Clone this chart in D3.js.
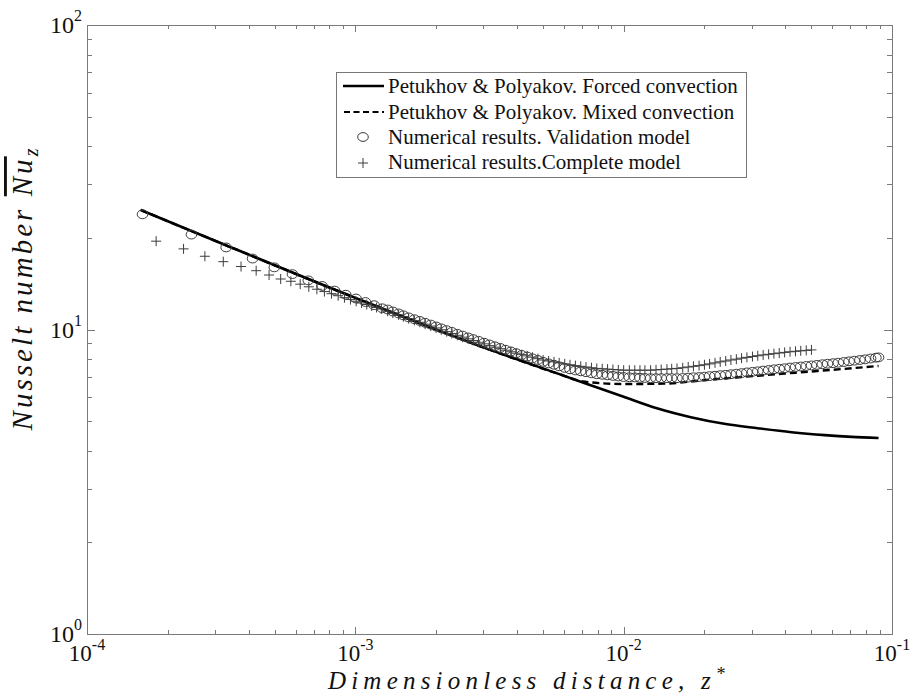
<!DOCTYPE html>
<html><head><meta charset="utf-8">
<script src="https://cdn.jsdelivr.net/npm/d3@7"></script>
<style>html,body{margin:0;padding:0;background:#fff;}svg{display:block;}</style>
</head><body>
<svg id="c" width="914" height="694"></svg>
<script>
// ---------- data ----------
const xDecades = [1e-4, 1e-3, 1e-2, 1e-1];
const xExponents = ["-4", "-3", "-2", "-1"];
const yDecades = [1, 10, 100];
const yExponents = ["0", "1", "2"];

const legendLabels = [
  "Petukhov & Polyakov. Forced convection",
  "Petukhov & Polyakov. Mixed convection",
  "Numerical results. Validation model",
  "Numerical results.Complete model"
];

// Petukhov & Polyakov, forced convection (solid)
const forcedZ  = [1.585e-4, 3.16e-4, 1e-3, 3.16e-3, 5.62e-3, 0.01, 0.0133, 0.0178, 0.0237, 0.0316, 0.0422, 0.0562, 0.0708, 0.0891];
const forcedNu = [24.7, 19.2, 12.7, 8.59, 7.19, 6.01, 5.51, 5.15, 4.90, 4.74, 4.60, 4.50, 4.44, 4.40];

// Petukhov & Polyakov, mixed convection (dashed)
const mixedZ  = [1.585e-4, 3.16e-4, 1e-3, 3.16e-3, 5.62e-3, 7.08e-3, 0.01, 0.0141, 0.02, 0.0316, 0.05, 0.0708, 0.0891];
const mixedNu = [24.7, 19.2, 12.7, 8.59, 7.19, 6.75, 6.62, 6.64, 6.82, 7.05, 7.28, 7.46, 7.59];

// marker abscissae of the dense part of both numerical series
const denseZ = [1.32e-3,1.38e-3,1.45e-3,1.51e-3,1.58e-3,1.66e-3,1.74e-3,1.82e-3,1.91e-3,2.00e-3,
  2.09e-3,2.19e-3,2.29e-3,2.40e-3,2.51e-3,2.63e-3,2.75e-3,2.88e-3,3.02e-3,3.16e-3,
  3.31e-3,3.47e-3,3.63e-3,3.80e-3,3.98e-3,4.17e-3,4.37e-3,4.57e-3,4.79e-3,5.01e-3,
  5.25e-3,5.50e-3,5.75e-3,6.03e-3,6.31e-3,6.61e-3,6.92e-3,7.24e-3,7.59e-3,7.94e-3,
  8.32e-3,8.71e-3,9.12e-3,9.55e-3,0.0100,
  0.0105,0.0110,0.0115,0.0120,0.0126,0.0132,0.0138,0.0145,0.0151,0.0158,
  0.0166,0.0174,0.0182,0.0191,0.0200,0.0209,0.0219,0.0229,0.0240,0.0251,
  0.0263,0.0275,0.0288,0.0302,0.0316,0.0331,0.0347,0.0363,0.0380,0.0398,
  0.0417,0.0437,0.0457,0.0479,0.0501,0.0525,0.0550,0.0575,0.0603,0.0631,
  0.0661,0.0692,0.0724,0.0759,0.0794,0.0832,0.0871,0.0891];

// Numerical results, validation model (circles)
const validSparseZ  = [1.61e-4,2.45e-4,3.30e-4,4.14e-4,4.99e-4,5.83e-4,6.68e-4,7.52e-4,8.37e-4,9.21e-4,1.006e-3,1.09e-3,1.175e-3,1.26e-3];
const validSparseNu = [23.9,20.5,18.6,17.1,16.0,15.2,14.5,13.9,13.42,13.01,12.64,12.31,12.02,11.74];
const validDenseNu = [11.63,11.46,11.29,11.13,10.96,10.81,10.67,10.52,10.38,10.23,
  10.09,9.95,9.82,9.68,9.55,9.42,9.30,9.18,9.05,8.93,
  8.81,8.70,8.58,8.47,8.36,8.25,8.15,8.04,7.94,7.83,
  7.74,7.66,7.57,7.48,7.40,7.34,7.29,7.24,7.18,7.13,
  7.10,7.07,7.04,7.01,6.98,
  6.97,6.96,6.94,6.93,6.92,6.92,6.92,6.92,6.92,6.92,
  6.93,6.95,6.97,6.98,7.00,7.03,7.05,7.08,7.10,7.13,
  7.16,7.19,7.23,7.26,7.29,7.33,7.36,7.40,7.43,7.46,
  7.50,7.53,7.56,7.59,7.62,7.65,7.69,7.72,7.75,7.78,
  7.82,7.86,7.90,7.94,7.98,8.03,8.08,8.10];

// Numerical results, complete model (crosses)
const completeSparseZ  = [1.81e-4,2.29e-4,2.75e-4,3.22e-4,3.75e-4,4.27e-4,4.77e-4,5.27e-4,5.75e-4,6.23e-4,6.71e-4,7.19e-4,7.67e-4,8.15e-4,8.63e-4,9.11e-4,9.59e-4,1.007e-3,1.055e-3,1.103e-3,1.151e-3,1.20e-3,1.25e-3];
const completeSparseNu = [19.5,18.4,17.4,16.7,16.1,15.6,15.1,14.65,14.4,14.09,13.81,13.56,13.32,13.11,12.91,12.72,12.54,12.38,12.22,12.08,11.94,11.81,11.68];
const completeDenseNu = [11.48,11.32,11.17,11.02,10.86,10.71,10.56,10.41,10.26,10.12,
  9.98,9.84,9.70,9.57,9.44,9.32,9.20,9.08,8.97,8.85,
  8.75,8.65,8.55,8.45,8.36,8.27,8.19,8.11,8.02,7.94,
  7.88,7.83,7.77,7.71,7.66,7.61,7.57,7.53,7.49,7.45,
  7.43,7.41,7.39,7.37,7.35,
  7.35,7.35,7.35,7.35,7.35,7.37,7.39,7.41,7.43,7.45,
  7.49,7.53,7.57,7.61,7.66,7.71,7.77,7.83,7.88,7.94,
  7.99,8.05,8.10,8.15,8.20,8.25,8.29,8.33,8.37,8.41,
  8.45,8.48,8.51,8.54,8.57];

// ---------- build ----------
const forced = d3.zip(forcedZ, forcedNu);
const mixed = d3.zip(mixedZ, mixedNu);
const valid = d3.zip(validSparseZ.concat(denseZ), validSparseNu.concat(validDenseNu));
const complete = d3.zip(completeSparseZ.concat(denseZ), completeSparseNu.concat(completeDenseNu));

const SERIF = "Liberation Serif";
const svg = d3.select("#c");
svg.append("rect").attr("width", 914).attr("height", 694).attr("fill", "#fff");

const L = 87, R = 892, T = 25, B = 634;
const x = d3.scaleLog().domain([1e-4, 1e-1]).range([L, R]);
const y = d3.scaleLog().domain([1, 100]).range([B, T]);

const axisCol = "#7a7a7a";

// ticks (inward, mirrored on all sides)
const g = svg.append("g").attr("stroke", axisCol).attr("stroke-width", 1);
x.ticks().forEach(v => {
  const major = xDecades.some(d => Math.abs(d - v) / d < 1e-6);
  const len = major ? 7 : 4;
  const px = Math.round(x(v)) + 0.5;
  g.append("line").attr("x1", px).attr("x2", px).attr("y1", B).attr("y2", B - len);
  g.append("line").attr("x1", px).attr("x2", px).attr("y1", T).attr("y2", T + len);
});
y.ticks().forEach(v => {
  const major = yDecades.some(d => Math.abs(d - v) / d < 1e-6);
  const len = major ? 8 : 5;
  const py = Math.round(y(v)) + 0.5;
  g.append("line").attr("y1", py).attr("y2", py).attr("x1", L).attr("x2", L + len);
  g.append("line").attr("y1", py).attr("y2", py).attr("x1", R).attr("x2", R - len);
});
svg.append("rect").attr("x", L + 0.5).attr("y", T + 0.5).attr("width", R - L).attr("height", B - T)
  .attr("fill", "none").attr("stroke", axisCol).attr("stroke-width", 1);

// tick labels
xDecades.forEach((v, i) => {
  const t = svg.append("text").attr("font-family", SERIF).style("font-family", SERIF)
    .attr("x", x(v)).attr("y", 660.5).attr("text-anchor", "middle")
    .attr("font-size", 23).attr("fill", "#111");
  t.append("tspan").text("10");
  t.append("tspan").attr("font-size", 16).attr("dy", -11).text(xExponents[i]);
});
yDecades.forEach((v, i) => {
  const t = svg.append("text").attr("font-family", SERIF).style("font-family", SERIF)
    .attr("x", 82).attr("y", y(v) + 8).attr("text-anchor", "end")
    .attr("font-size", 24).attr("fill", "#111");
  t.append("tspan").text("10");
  t.append("tspan").attr("font-size", 16).attr("dy", -12).text(yExponents[i]);
});

// axis titles
function fitWidth(sel, target) {
  const n = sel.text().length;
  const w = sel.node().getComputedTextLength();
  sel.attr("letter-spacing", ((target - w) / n).toFixed(2));
}
const xt1 = svg.append("text").attr("font-family", SERIF).style("font-family", SERIF)
  .attr("x", 529).attr("y", 688.5).attr("text-anchor", "middle")
  .style("font-style", "italic").attr("font-size", 25).attr("fill", "#111");
xt1.append("tspan").text("Dimensionless distance, z");
xt1.append("tspan").attr("font-size", 18).attr("dy", -9).text("*");
fitWidth(xt1, 402);

const yt1 = svg.append("text").attr("font-family", SERIF).style("font-family", SERIF)
  .attr("transform", "translate(32,288) rotate(-90)").attr("text-anchor", "middle")
  .style("font-style", "italic").attr("font-size", 29).attr("fill", "#111");
yt1.append("tspan").text("Nusselt number ");
yt1.append("tspan").style("text-decoration", "overline").text("Nu");
yt1.append("tspan").attr("font-size", 20).attr("dy", 6).text("z");
fitWidth(yt1, 285);

// lines
const line = d3.line().x(d => x(d[0])).y(d => y(d[1])).curve(d3.curveMonotoneX);
svg.append("path").datum(mixed).attr("d", line).attr("fill", "none").attr("stroke", "#000")
  .attr("stroke-width", 2.4).attr("stroke-dasharray", "7,4");
svg.append("path").datum(forced).attr("d", line).attr("fill", "none").attr("stroke", "#000")
  .attr("stroke-width", 2.6);

// markers
const mcol = "#3c3c3c";
svg.append("g").selectAll("ellipse").data(valid).join("ellipse")
  .attr("cx", d => x(d[0])).attr("cy", d => y(d[1])).attr("rx", 5.3).attr("ry", 4.4)
  .attr("fill", "none").attr("stroke", mcol).attr("stroke-width", 1);
svg.append("g").selectAll("path").data(complete).join("path")
  .attr("transform", d => `translate(${x(d[0])},${y(d[1])})`)
  .attr("d", "M-5,0H5M0,-5V5").attr("fill", "none").attr("stroke", mcol).attr("stroke-width", 1);

// legend
const lg = svg.append("g");
lg.append("rect").attr("x", 336.5).attr("y", 72.5).attr("width", 410).attr("height", 105)
  .attr("fill", "#fff").attr("stroke", "#777").attr("stroke-width", 1);
const rowsBase = [93, 119, 144, 169];
lg.append("line").attr("x1", 343).attr("x2", 384).attr("y1", 86).attr("y2", 86)
  .attr("stroke", "#000").attr("stroke-width", 2.6);
lg.append("line").attr("x1", 344).attr("x2", 384).attr("y1", 112).attr("y2", 112)
  .attr("stroke", "#000").attr("stroke-width", 2.2).attr("stroke-dasharray", "6,3.5");
lg.append("ellipse").attr("cx", 363).attr("cy", 137).attr("rx", 5.3).attr("ry", 4.4)
  .attr("fill", "none").attr("stroke", mcol).attr("stroke-width", 1);
lg.append("path").attr("transform", "translate(363,163)").attr("d", "M-5,0H5M0,-5V5")
  .attr("fill", "none").attr("stroke", mcol).attr("stroke-width", 1);
const legTexts = legendLabels.map((s, i) =>
  lg.append("text").attr("font-family", SERIF).style("font-family", SERIF)
    .attr("x", 388).attr("y", rowsBase[i])
    .attr("font-size", 20).attr("fill", "#111").text(s));
const w0 = legTexts[0].node().getComputedTextLength();
const fs = Math.min(22, 20 * 350 / w0);
legTexts.forEach(t => t.attr("font-size", fs.toFixed(2)));
</script>
</body></html>
